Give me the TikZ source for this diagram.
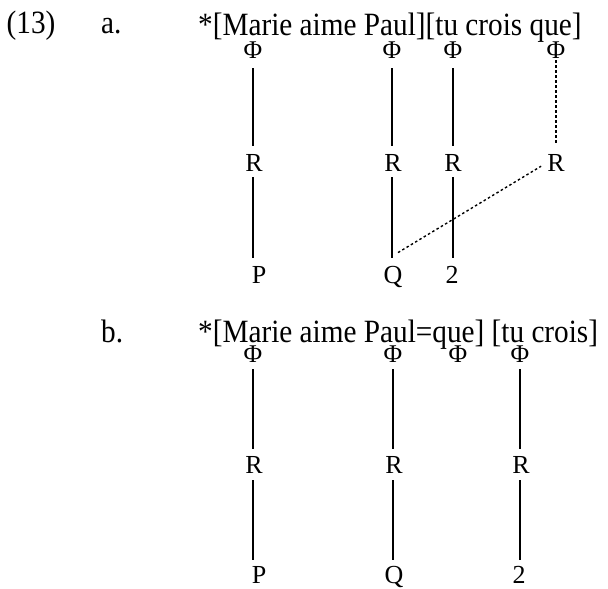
\documentclass[tikz,border=0pt]{standalone}
\usepackage{fontspec}
\setmainfont{Liberation Serif}
\newfontfamily\condfont{Liberation Serif}[FakeStretch=0.9]
\usetikzlibrary{calc}
\begin{document}
\begin{tikzpicture}[x=1pt,y=-1pt,
  sent/.style={anchor=base west,inner sep=0pt,font=\condfont\fontsize{32.5}{34}\selectfont},
  phi/.style={anchor=base,inner sep=0pt,font=\fontsize{25.5}{27}\selectfont},
  lab/.style={anchor=base,inner sep=0pt,font=\fontsize{26}{28}\selectfont},
  link/.style={line width=1.3pt},
  dotlink/.style={line width=1.4pt,dash pattern=on 2.5pt off 2.5pt}]
\useasboundingbox (0,0) rectangle (608,589);
% ---------- (13) a.
\node[sent] (n13) at (6.5,33) {(13)};
\node[sent] (la) at (101,33) {a.};
\node[sent] (sa) at (198,35) {*[Marie aime Paul][tu crois que]};
\node[phi] (pa1) at (253,58) {Φ};
\node[phi] (pa2) at (392,58) {Φ};
\node[phi] (pa3) at (453,58) {Φ};
\node[phi] (pa4) at (556,58) {Φ};
\node[lab] (ra1) at (254,171) {R};
\node[lab] (ra2) at (393,171) {R};
\node[lab] (ra3) at (453,171) {R};
\node[lab] (ra4) at (556,171) {R};
\node[lab] (xa1) at (259,283) {P};
\node[lab] (xa2) at (393,283) {Q};
\node[lab] (xa3) at (452,283) {2};
\foreach \i in {1,2,3}{
  \draw[link,shorten <=10pt,shorten >=8pt] (pa\i.south) -- (pa\i.south |- ra\i.north);
  \draw[link,shorten <=6pt,shorten >=8pt] (ra\i.south -| pa\i.south) -- (xa\i.north -| pa\i.south);
}
\draw[dotlink,shorten <=2pt,shorten >=9pt] (pa4.south) -- (pa4.south |- ra4.north);
\draw[dotlink] ($(xa2.north)+(5,-13)$) -- ($(ra4.south west)+(-6,-5)$);
% ---------- b.
\node[sent] (lb) at (101,342) {b.};
\node[sent] (sb) at (198,342) {*[Marie aime Paul=que] [tu crois]};
\node[phi] (pb1) at (253,362) {Φ};
\node[phi] (pb2) at (393,362) {Φ};
\node[phi] (pb3) at (458,362) {Φ};
\node[phi] (pb4) at (520,362) {Φ};
\node[lab] (rb1) at (254,473) {R};
\node[lab] (rb2) at (394,473) {R};
\node[lab] (rb3) at (521,473) {R};
\node[lab] (xb1) at (259,583) {P};
\node[lab] (xb2) at (394,583) {Q};
\node[lab] (xb3) at (519,583) {2};
\foreach \i/\p in {1/1,2/2,3/4}{
  \draw[link,shorten <=7pt,shorten >=7pt] (pb\p.south) -- (pb\p.south |- rb\i.north);
  \draw[link,shorten <=7pt,shorten >=6pt] (rb\i.south -| pb\p.south) -- (xb\i.north -| pb\p.south);
}
\end{tikzpicture}
\end{document}
